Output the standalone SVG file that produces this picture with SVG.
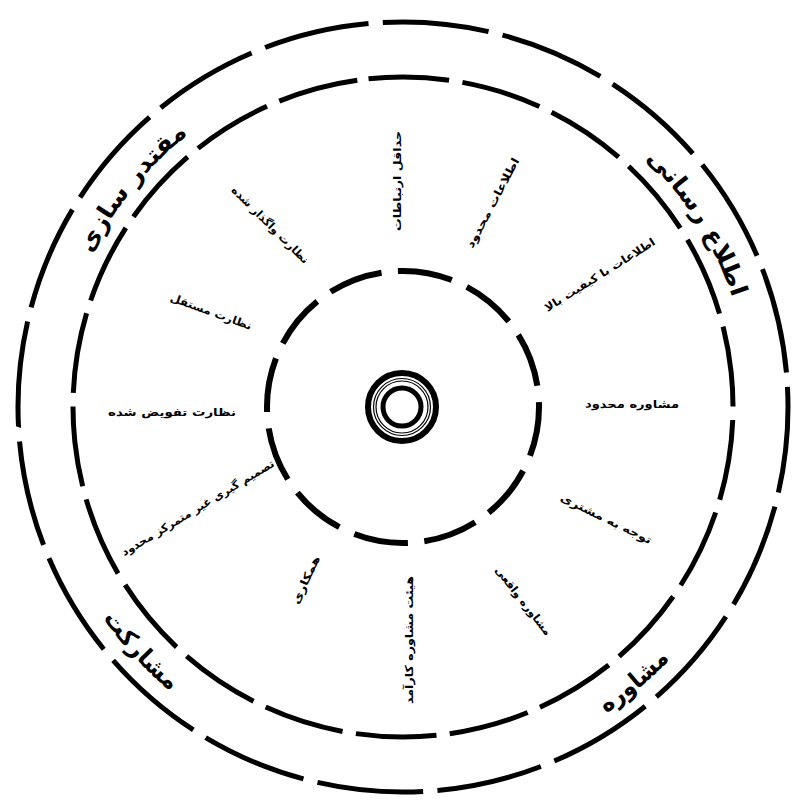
<svg xmlns="http://www.w3.org/2000/svg" width="792" height="802" viewBox="0 0 792 802">
<style>
.ring{fill:none;stroke:#000;stroke-linecap:butt}
.outer{stroke-width:5;stroke-dasharray:4.4 0.6}
.band{stroke-width:5;stroke-dasharray:3.9 0.65}
.mid{stroke-width:6;stroke-dasharray:6.4 1.93}
.big{font-family:"DejaVu Sans",sans-serif;font-weight:bold;font-size:24px;fill:#000}
.lbl{font-family:"DejaVu Sans",sans-serif;font-weight:bold;font-size:11px;fill:#000}
</style>
<defs>
<path id="cw" d="M56,407 A347,347 0 1 1 750,407 A347,347 0 1 1 56,407"/>
<path id="ccw" d="M36,407 A367,367 0 1 0 770,407 A367,367 0 1 0 36,407"/>
</defs>
<rect width="792" height="802" fill="#fff"/>
<g id="connectors">
<circle class="ring outer" cx="403" cy="407" r="385" pathLength="100" transform="rotate(-93 403 407)"/>
<circle class="ring band" cx="403" cy="407" r="330" pathLength="100" transform="rotate(-96 403 407)"/>
<circle class="ring mid" cx="403" cy="407" r="136" pathLength="100" transform="rotate(-92 403 407)"/>
</g>
<g id="core">
<circle cx="402" cy="407" r="34" fill="none" stroke="#000" stroke-width="6"/>
<circle cx="402" cy="407" r="28.5" fill="none" stroke="#000" stroke-width="1.2"/>
<circle cx="402" cy="407" r="26" fill="none" stroke="#000" stroke-width="1.2"/>
<circle cx="402" cy="407" r="19" fill="none" stroke="#000" stroke-width="5"/>
</g>
<g id="informing"><text class="big"><textPath href="#cw" startOffset="896" text-anchor="middle" textLength="165" lengthAdjust="spacingAndGlyphs">اطلاع رسانی</textPath></text></g>
<g id="empowerment"><text class="big"><textPath href="#cw" startOffset="236" text-anchor="middle" textLength="155" lengthAdjust="spacingAndGlyphs">مقتدر سازی</textPath></text></g>
<g id="participation"><text class="big"><textPath href="#ccw" startOffset="275" text-anchor="middle" textLength="100" lengthAdjust="spacingAndGlyphs">مشارکت</textPath></text></g>
<g id="consultation"><text class="big"><textPath href="#ccw" startOffset="833" text-anchor="middle" textLength="84" lengthAdjust="spacingAndGlyphs">مشاوره</textPath></text></g>
<g id="n1"><text class="lbl" text-anchor="middle" dominant-baseline="central" transform="translate(397,181) rotate(-90)" textLength="100" lengthAdjust="spacingAndGlyphs">حداقل ارتباطات</text></g>
<g id="n2"><text class="lbl" text-anchor="middle" dominant-baseline="central" transform="translate(493,203) rotate(-62)" textLength="100" lengthAdjust="spacingAndGlyphs">اطلاعات محدود</text></g>
<g id="n3"><text class="lbl" text-anchor="middle" dominant-baseline="central" transform="translate(600,275) rotate(-32)" textLength="128" lengthAdjust="spacingAndGlyphs">اطلاعات با کیفیت بالا</text></g>
<g id="n4"><text class="lbl" text-anchor="middle" dominant-baseline="central" transform="translate(632,404)" textLength="94" lengthAdjust="spacingAndGlyphs">مشاوره محدود</text></g>
<g id="n5"><text class="lbl" text-anchor="middle" dominant-baseline="central" transform="translate(606,519) rotate(26)" textLength="100" lengthAdjust="spacingAndGlyphs">توجه به مشتری</text></g>
<g id="n6"><text class="lbl" text-anchor="middle" dominant-baseline="central" transform="translate(523,601) rotate(52)" textLength="84" lengthAdjust="spacingAndGlyphs">مشاوره واقعی</text></g>
<g id="n7"><text class="lbl" text-anchor="middle" dominant-baseline="central" transform="translate(409,640) rotate(-90)" textLength="128" lengthAdjust="spacingAndGlyphs">هیئت مشاوره کارآمد</text></g>
<g id="n8"><text class="lbl" text-anchor="middle" dominant-baseline="central" transform="translate(306,580) rotate(-65)" textLength="52" lengthAdjust="spacingAndGlyphs">همکاری</text></g>
<g id="n9"><text class="lbl" text-anchor="middle" dominant-baseline="central" transform="translate(198,508) rotate(-31)" textLength="176" lengthAdjust="spacingAndGlyphs">تصمیم گیری غیر متمرکز محدود</text></g>
<g id="n10"><text class="lbl" text-anchor="middle" dominant-baseline="central" transform="translate(172,412)" textLength="128" lengthAdjust="spacingAndGlyphs">نظارت تفویض شده</text></g>
<g id="n11"><text class="lbl" text-anchor="middle" dominant-baseline="central" transform="translate(211,312) rotate(20)" textLength="86" lengthAdjust="spacingAndGlyphs">نظارت مستقل</text></g>
<g id="n12"><text class="lbl" text-anchor="middle" dominant-baseline="central" transform="translate(270,225) rotate(45)" textLength="104" lengthAdjust="spacingAndGlyphs">نظارت واگذار شده</text></g>
</svg>
